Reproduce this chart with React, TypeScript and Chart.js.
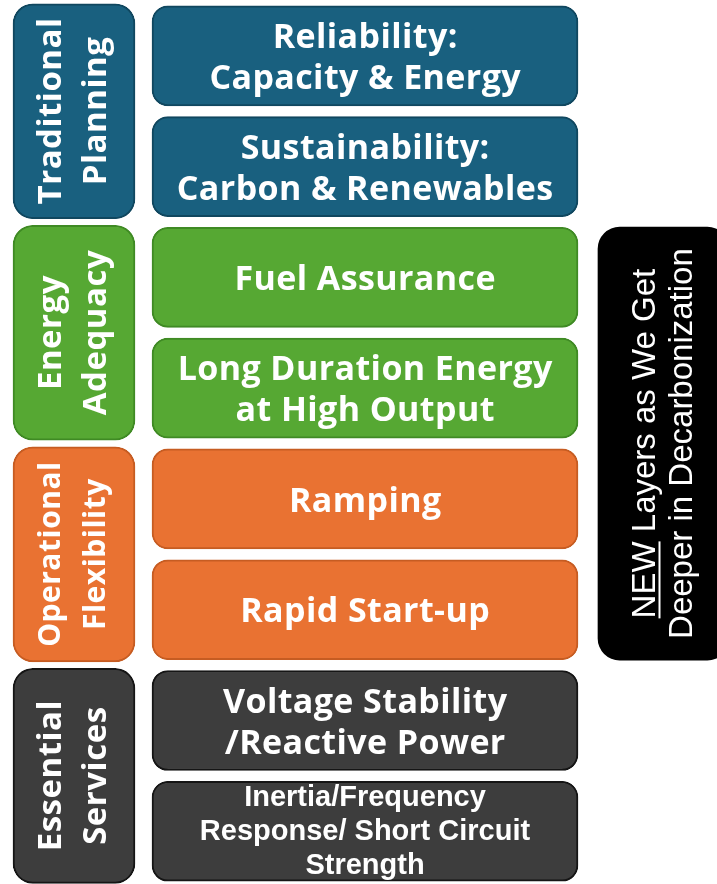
import React, { useEffect, useRef } from "react";
import { Chart, registerables } from "chart.js";

Chart.register(...registerables);

// ---- data ----
const layerLabels: string[][] = [
  ["Reliability:", "Capacity & Energy"],
  ["Sustainability:", "Carbon & Renewables"],
  ["Fuel Assurance"],
  ["Long Duration Energy", "at High Output"],
  ["Ramping"],
  ["Rapid Start-up"],
  ["Voltage Stability", "/Reactive Power"],
  ["Inertia/Frequency", "Response/ Short Circuit", "Strength"],
];
const layerRows = [0, 1, 2, 3, 4, 5, 6, 7];

const groupLabels: string[][] = [
  ["Traditional", "Planning"],
  ["Energy", "Adequacy"],
  ["Operational", "Flexibility"],
  ["Essential", "Services"],
];
const groupRows = [0.5, 2.5, 4.5, 6.5];

const noteUnderlined = "NEW";
const noteLines = [" Layers as We Get", "Deeper in Decarbonization"];
const noteRow = 3.5;

// ---- styles ----
const groupFill = ["#19607f", "#56a833", "#e97232", "#3d3d3d"];
const groupBorder = ["#10475f", "#3f8a24", "#c65c22", "#151515"];
const layerFill = [0, 0, 1, 1, 2, 2, 3, 3].map((g) => groupFill[g]);
const layerBorder = [0, 0, 1, 1, 2, 2, 3, 3].map((g) => groupBorder[g]);

const COLS = {
  group: [13, 135] as [number, number],
  layer: [152, 578] as [number, number],
  note: [598, 729] as [number, number],
};

const BOLD = '"Open Sans", "DejaVu Sans", sans-serif';

function drawLines(
  ctx: CanvasRenderingContext2D,
  lines: string[],
  cx: number,
  cy: number,
  lineH: number,
  font: string,
  rotate: boolean,
  spacing: number
) {
  ctx.save();
  ctx.translate(cx, cy);
  if (rotate) ctx.rotate(-Math.PI / 2);
  ctx.font = font;
  (ctx as any).letterSpacing = spacing + "px";
  ctx.fillStyle = "#ffffff";
  ctx.textAlign = "center";
  ctx.textBaseline = "middle";
  const n = lines.length;
  lines.forEach((t, i) => {
    ctx.fillText(t, spacing / 2, (i - (n - 1) / 2) * lineH);
  });
  ctx.restore();
}

const textPlugin = {
  id: "boxText",
  afterDatasetsDraw(chart: any) {
    const ctx: CanvasRenderingContext2D = chart.ctx;
    chart.data.datasets.forEach((ds: any, di: number) => {
      const meta = chart.getDatasetMeta(di);
      meta.data.forEach((el: any, i: number) => {
        const { x, y, base } = el.getProps(["x", "y", "base"], true);
        const cx = (x + base) / 2;
        if (ds.kind === "group") {
          drawLines(ctx, groupLabels[i], cx, y, 45, `700 ${i === 2 ? 30 : 33}px ${BOLD}`, true, 0.5);
        } else if (ds.kind === "layer") {
          if (i === 7) {
            drawLines(ctx, layerLabels[i], cx, y + 1, 34, '700 29px "Liberation Sans", Arial, sans-serif', false, 0);
          } else {
            drawLines(ctx, layerLabels[i], cx, y + 3, 41, `700 34px ${BOLD}`, false, 0.4);
          }
        } else if (ds.kind === "note") {
          ctx.save();
          const ncx = 664;
          ctx.translate(ncx, y);
          ctx.rotate(-Math.PI / 2);
          ctx.font = '400 33px "Liberation Sans", Arial, sans-serif';
          ctx.fillStyle = "#ffffff";
          ctx.strokeStyle = "#ffffff";
          ctx.textBaseline = "middle";
          ctx.textAlign = "left";
          const lh = 37;
          const w1 = ctx.measureText(noteUnderlined).width;
          const w2 = ctx.measureText(noteLines[0]).width;
          const x1 = -(w1 + w2) / 2;
          const y1 = -lh / 2;
          ctx.fillText(noteUnderlined, x1, y1);
          ctx.fillText(noteLines[0], x1 + w1, y1);
          ctx.lineWidth = 2;
          ctx.beginPath();
          ctx.moveTo(x1, y1 + 14);
          ctx.lineTo(x1 + w1, y1 + 14);
          ctx.stroke();
          ctx.textAlign = "center";
          ctx.fillText(noteLines[1], 0, lh / 2);
          ctx.restore();
        }
      });
    });
  },
};

export default function App() {
  const ref = useRef<HTMLCanvasElement | null>(null);

  useEffect(() => {
    document.body.style.margin = "0";
    document.body.style.background = "#ffffff";
    const canvas = ref.current;
    if (!canvas) return;
    const chart = new Chart(canvas, {
      type: "bar",
      data: {
        datasets: [
          {
            kind: "group",
            data: groupRows.map((r) => ({ x: COLS.group, y: r })),
            backgroundColor: groupFill,
            borderColor: groupBorder,
            borderWidth: 2,
            borderRadius: 20,
            borderSkipped: false,
            barThickness: 215,
            grouped: false,
          } as any,
          {
            kind: "layer",
            data: layerRows.map((r) => ({ x: COLS.layer, y: r })),
            backgroundColor: layerFill,
            borderColor: layerBorder,
            borderWidth: 2,
            borderRadius: 16,
            borderSkipped: false,
            barThickness: 100,
            grouped: false,
          } as any,
          {
            kind: "note",
            data: [{ x: COLS.note, y: noteRow }],
            backgroundColor: "#000000",
            borderColor: "#000000",
            borderWidth: 0,
            borderRadius: 22,
            borderSkipped: false,
            barThickness: 433,
            grouped: false,
          } as any,
        ],
      },
      options: {
        indexAxis: "y",
        animation: false,
        responsive: false,
        devicePixelRatio: 1,
        events: [],
        layout: { padding: 0 },
        scales: {
          x: { type: "linear", min: 0, max: 717, display: false, offset: false },
          y: { type: "linear", min: -0.504, max: 7.476, reverse: true, display: false, offset: false },
        },
        plugins: { legend: { display: false }, tooltip: { enabled: false } },
      } as any,
      plugins: [textPlugin],
    });
    return () => chart.destroy();
  }, []);

  return (
    <div style={{ position: "absolute", left: 0, top: 0, width: 717, height: 884, background: "#fff" }}>
      <canvas ref={ref} width={717} height={884} style={{ display: "block", width: 717, height: 884 }} />
    </div>
  );
}
